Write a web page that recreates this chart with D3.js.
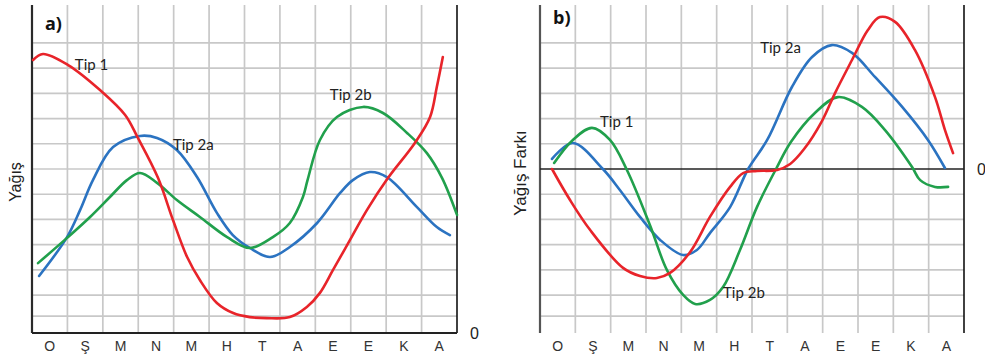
<!DOCTYPE html>
<html>
<head>
<meta charset="utf-8">
<script src="https://cdn.jsdelivr.net/npm/d3@7"></script>
<style>
  body { margin: 0; background: #fff; }
  svg { display: block; background: #fff; }
  .month text { font-family: 'Liberation Sans', Arial, sans-serif; font-size: 14px; fill: #333; }
  .tip { font-family: Lato, 'Open Sans', sans-serif; font-size: 15px; fill: #222; }
  .ylab { font-family: 'Liberation Sans', Arial, sans-serif; fill: #222; }
  .zero { font-family: 'Liberation Sans', Arial, sans-serif; font-size: 16px; fill: #222; }
  .title { font-family: 'Open Sans', sans-serif; font-weight: bold; font-size: 18px; fill: #111; }
</style>
</head>
<body>
<svg id="chart" width="985" height="360"></svg>
<script>
// month initials, Ekim -> Eylül
const months = ['O', 'Ş', 'M', 'N', 'M', 'H', 'T', 'A', 'E', 'E', 'K', 'A'];

// panel a) precipitation, [month position, value]
const tip1A = [[0.03, 10.82], [0.31, 11.06], [1.02, 10.62], [1.92, 9.63], [2.63, 8.64], [2.99, 7.73], [3.56, 6.14],
  [3.98, 4.48], [4.38, 3.01], [4.74, 2.1], [5.22, 1.19], [5.68, 0.79], [6.15, 0.63], [6.63, 0.59], [7.28, 0.63],
  [7.76, 1.03], [8.13, 1.59], [8.5, 2.5], [8.98, 3.69], [9.46, 4.88], [10.05, 6.14], [10.81, 7.53], [11.24, 8.56],
  [11.43, 9.75], [11.6, 10.94]];
const tip2aA = [[0.2, 2.26], [0.99, 3.8], [1.36, 4.88], [1.72, 6.06], [2.29, 7.37], [3.05, 7.81],
  [3.53, 7.73], [4.09, 7.25], [4.66, 6.18], [5.22, 4.76], [5.67, 3.88], [6.15, 3.37], [6.72, 3.01], [7.28, 3.41],
  [8.05, 4.36], [8.7, 5.55], [9.06, 6.06], [9.54, 6.38], [10.02, 6.18], [10.87, 4.99], [11.43, 4.2], [11.8, 3.88]];
const tip2bA = [[0.17, 2.77], [0.99, 3.77], [1.64, 4.6], [2.2, 5.39], [2.68, 6.06], [3.05, 6.34], [3.53, 5.95],
  [4.09, 5.27], [4.74, 4.6], [5.51, 3.8], [6.15, 3.37], [6.8, 3.8], [7.28, 4.36], [7.65, 5.39], [7.78, 6.06],
  [8.13, 7.65], [8.61, 8.56], [9.35, 8.96], [9.91, 8.72], [10.59, 7.93], [11.15, 7.13], [11.58, 6.14], [12.0, 4.68]];

// panel b) precipitation difference
const tip1B = [[0.34, 0], [0.85, -1.23], [1.42, -2.42], [2.35, -3.92], [2.83, -4.24], [3.31, -4.32],
  [3.68, -4.12], [4.25, -3.29], [4.81, -1.9], [5.38, -0.71], [5.75, -0.16], [6.14, -0.08], [6.71, -0.04],
  [7.08, 0.2], [7.48, 0.8], [7.98, 1.9], [8.35, 3.01], [8.83, 4.32], [9.28, 5.51], [9.62, 6.02], [10.05, 5.83],
  [10.61, 4.72], [11.18, 2.85], [11.46, 1.55], [11.69, 0.63]];
const tip2aB = [[0.34, 0.4], [0.93, 1.03], [1.78, 0], [2.26, -0.83], [2.83, -1.9], [3.4, -2.81],
  [4.05, -3.41], [4.44, -3.21], [4.81, -2.54], [5.38, -1.51], [5.89, 0], [6.43, 1.15], [7.13, 3.25], [7.7, 4.44],
  [8.26, 4.91], [8.83, 4.6], [9.48, 3.65], [10.25, 2.46], [10.98, 1.15], [11.46, 0.04]];
const tip2bB = [[0.4, 0.24], [0.93, 1.15], [1.47, 1.63], [1.98, 1.15], [2.46, -0.04], [3.11, -2.22], [3.59, -4.0],
  [4.05, -4.99], [4.39, -5.35], [4.81, -5.19], [5.18, -4.68], [5.66, -3.21], [6.14, -1.51], [6.68, 0], [7.1, 1.07],
  [7.78, 2.22], [8.43, 2.85], [9.11, 2.46], [9.76, 1.55], [10.53, 0.08], [10.76, -0.44], [11.18, -0.71], [11.55, -0.71]];

// horizontal grid values
const gridA = [0.67, 1.5, 2.5, 3.5, 4.5, 5.5, 6.5, 7.5, 8.5, 9.5, 10.5, 11.5];
const gridB = [-5.83, -5, -4, -3, -2, -1, 1, 2, 3, 4, 5];

// curve labels, [name, month position, value]
const labelsA = [['Tip 1', 1.21, 10.42], ['Tip 2a', 3.98, 7.25], ['Tip 2b', 8.41, 9.24]];
const labelsB = [['Tip 1', 1.7, 1.66], ['Tip 2a', 6.23, 4.6], ['Tip 2b', 5.18, -5.11]];

const colors = { tip1: '#e8242a', tip2a: '#2b73c1', tip2b: '#21a04c' };

function Panel(svg, c) {
  const x = d3.scaleLinear([0, 12], [c.left, c.right]);
  const y = d3.scaleLinear(c.yDomain, [c.bottom, c.top]);
  const band = d3.scaleBand(d3.range(12), [c.left, c.right]);
  const g = svg.append('g');

  // grid
  g.selectAll('line.vgrid')
    .data(d3.range(1, 12))
    .join('line')
    .attr('x1', (d) => x(d))
    .attr('x2', (d) => x(d))
    .attr('y1', c.top)
    .attr('y2', c.bottom)
    .attr('stroke', '#c8c8c8')
    .attr('stroke-width', 1.7);

  g.selectAll('line.hgrid')
    .data(c.grid)
    .join('line')
    .attr('x1', c.left)
    .attr('x2', c.right)
    .attr('y1', (d) => y(d))
    .attr('y2', (d) => y(d))
    .attr('stroke', '#c8c8c8')
    .attr('stroke-width', 1.7);

  // frame
  g.append('line')
    .attr('x1', c.left).attr('x2', c.left)
    .attr('y1', c.top).attr('y2', c.bottom)
    .attr('stroke', c.leftColor).attr('stroke-width', 2.2);
  g.append('line')
    .attr('x1', c.right).attr('x2', c.right)
    .attr('y1', c.top).attr('y2', c.bottom)
    .attr('stroke', '#111').attr('stroke-width', 1.6);
  g.append('line')
    .attr('x1', c.left).attr('x2', c.right)
    .attr('y1', y(0)).attr('y2', y(0))
    .attr('stroke', '#222').attr('stroke-width', c.zeroWidth);

  // months
  const axis = d3.axisBottom(band).tickFormat((i) => months[i]).tickSize(0).tickPadding(8);
  g.append('g')
    .classed('month', true)
    .attr('transform', `translate(0,${c.bottom})`)
    .call(axis)
    .call((s) => s.select('.domain').remove())
    .selectAll('text')
    .attr('font-size', null)
    .attr('font-family', null);

  // curves
  const line = d3
    .line()
    .x((d) => x(d[0]))
    .y((d) => y(d[1]))
    .curve(d3.curveCatmullRom.alpha(0.5));

  g.selectAll('path.curve')
    .data(c.series)
    .join('path')
    .classed('curve', true)
    .attr('d', (d) => line(d.values))
    .attr('fill', 'none')
    .attr('stroke', (d) => colors[d.key])
    .attr('stroke-width', 2.6)
    .attr('stroke-linecap', 'round')
    .attr('stroke-linejoin', 'round');

  g.selectAll('text.tip')
    .data(c.labels)
    .join('text')
    .classed('tip', true)
    .attr('x', (d) => x(d[1]))
    .attr('y', (d) => y(d[2]))
    .text((d) => d[0]);

  // texts
  g.append('text').classed('title', true).attr('x', c.left + 13).attr('y', c.titleY).text(c.title);
  g.append('text')
    .classed('zero', true)
    .attr('x', c.right + 13)
    .attr('y', y(0))
    .attr('dy', '0.35em')
    .text('0');
  g.append('text')
    .classed('ylab', true)
    .attr('font-size', c.yLabelSize)
    .attr('text-anchor', 'middle')
    .attr('transform', `translate(${c.yLabelX},${c.yLabelY}) rotate(-90)`)
    .attr('dy', '0.35em')
    .text(c.yLabel);
}

const svg = d3.select('#chart');
svg.append('rect').attr('width', 985).attr('height', 360).attr('fill', '#fff');

Panel(svg, {
  left: 32, right: 457, top: 5, bottom: 333,
  yDomain: [0, 13], grid: gridA, leftColor: '#2a2a2a', zeroWidth: 2.2,
  title: 'a)', titleY: 30,
  yLabel: 'Yağış', yLabelX: 15, yLabelY: 182, yLabelSize: 16,
  series: [
    { key: 'tip2a', values: tip2aA },
    { key: 'tip2b', values: tip2bA },
    { key: 'tip1', values: tip1A },
  ],
  labels: labelsA,
});

Panel(svg, {
  left: 540, right: 964, top: 5, bottom: 333,
  yDomain: [-6.5, 6.5], grid: gridB, leftColor: '#555', zeroWidth: 1.6,
  title: 'b)', titleY: 24,
  yLabel: 'Yağış Farkı', yLabelX: 520, yLabelY: 173, yLabelSize: 17,
  series: [
    { key: 'tip2a', values: tip2aB },
    { key: 'tip2b', values: tip2bB },
    { key: 'tip1', values: tip1B },
  ],
  labels: labelsB,
});
</script>
</body>
</html>
